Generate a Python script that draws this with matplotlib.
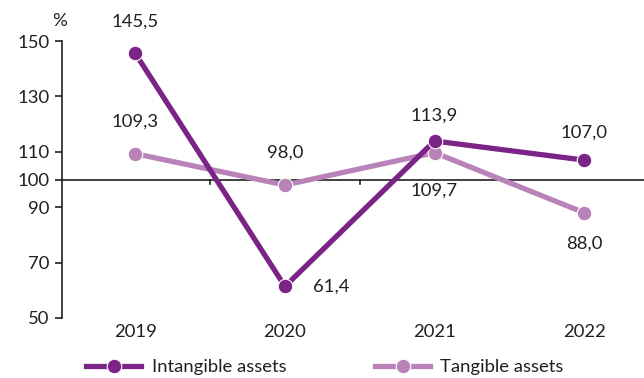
import matplotlib
matplotlib.use("Agg")
import matplotlib.pyplot as plt
from matplotlib.lines import Line2D

years = ["2019", "2020", "2021", "2022"]
intangible = [145.5, 61.4, 113.9, 107.0]
tangible = [109.3, 98.0, 109.7, 88.0]
y_ticks = [50, 70, 90, 100, 110, 130, 150]

DARK = "#7B2387"
LIGHT = "#B983B9"
TEXT = "#231F20"

plt.rcParams["font.family"] = ["Lato", "DejaVu Sans"]
FS = 13.3

fig = plt.figure(figsize=(6.44, 3.78), dpi=100)
ax = fig.add_axes([62 / 644, 1 - 318 / 378, 1 - 62 / 644, (318 - 41) / 378])

x = list(range(len(years)))
ax.set_xlim(-0.49, 3.40)
ax.set_ylim(50, 150)

# baseline at 100 with small separators between years
ax.axhline(100, color=TEXT, lw=1.2, zorder=1)
for b in [0.5, 1.5, 2.5]:
    ax.plot([b, b], [100, 98.2], color=TEXT, lw=1.2, zorder=1, clip_on=False)

style = dict(lw=3.8, marker="o", ms=10.5, mec="white", mew=0.8,
             solid_capstyle="butt", zorder=3)
ax.plot(x, tangible, color=LIGHT, **style)
ax.plot(x, intangible, color=DARK, **style)

def fmt(v):
    return f"{v:.1f}".replace(".", ",")

# value labels: (dx, dy) offsets in points
int_off = [(0, 23), (33, 0), (0, 18), (0, 20)]
tan_off = [(0, 23), (0, 23), (0, -27), (0, -22)]
for xi, v, off in zip(x, intangible, int_off):
    ax.annotate(fmt(v), (xi, v), xytext=off, textcoords="offset points",
                ha="center", va="center", fontsize=FS, color=TEXT, zorder=4)
for xi, v, off in zip(x, tangible, tan_off):
    ax.annotate(fmt(v), (xi, v), xytext=off, textcoords="offset points",
                ha="center", va="center", fontsize=FS, color=TEXT, zorder=4)

for s in ["top", "right", "bottom"]:
    ax.spines[s].set_visible(False)
ax.spines["left"].set_color(TEXT)
ax.spines["left"].set_linewidth(1.2)
ax.set_yticks(y_ticks)
ax.set_yticklabels([str(t) for t in y_ticks])
ax.tick_params(axis="y", length=5, width=1.2, color=TEXT, labelsize=FS,
               labelcolor=TEXT, pad=4)
ax.set_xticks(x)
ax.set_xticklabels(years)
ax.tick_params(axis="x", length=0, labelsize=FS, labelcolor=TEXT, pad=4)

fig.text(60 / 644, 1 - 21 / 378, "%", ha="center", va="center",
         fontsize=FS, color=TEXT)

handles = [
    Line2D([], [], color=DARK, lw=3.8, marker="o", ms=10.5, mec="white", mew=0.8),
    Line2D([], [], color=LIGHT, lw=3.8, marker="o", ms=10.5, mec="white", mew=0.8),
]
fig.legend(handles, ["Intangible assets", "Tangible assets"], ncol=2,
           loc="center left", bbox_to_anchor=(86 / 644, 1 - 367 / 378),
           frameon=False, fontsize=FS, handlelength=3.0, handletextpad=0.55,
           columnspacing=4.8, labelcolor=TEXT, borderaxespad=0, borderpad=0)

fig.savefig("out.png", dpi=100)
